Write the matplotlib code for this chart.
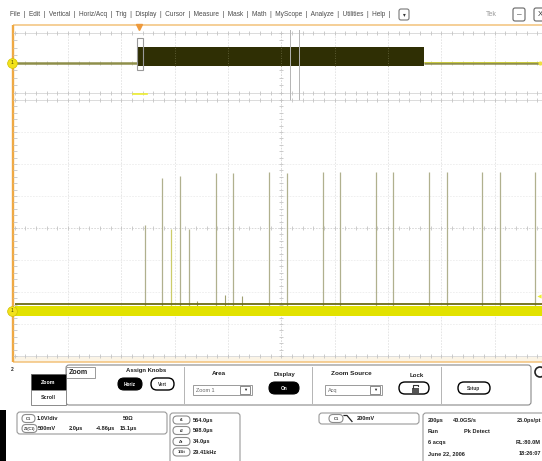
import numpy as np
import matplotlib
matplotlib.use('Agg')
import matplotlib.pyplot as plt
import matplotlib.transforms as mtransforms
from matplotlib.patches import FancyBboxPatch, Rectangle, Circle
from matplotlib.collections import LineCollection

plt.rcParams['font.family'] = ['Liberation Sans', 'DejaVu Sans']

W, H = 542, 461

# ---- values ----
menu_items = ["File", "Edit", "Vertical", "Horiz/Acq", "Trig", "Display", "Cursor",
              "Measure", "Mask", "Math", "MyScope", "Analyze", "Utilities", "Help"]

# main window: 200 us/div, 1.0 V/div
main_t_range = (-467.0, 1533.0)      # us
main_v_range = (-4.0, 4.0)           # V
burst_t = [-8.0, 1068.0]             # us
burst_v = [-0.4, 2.13]               # V
cursor_t = [564.0, 598.0]            # us
trigger_t = 0.0
trigger_level = 0.2                  # V

# zoom window: 2.0 us/div, 0.5 V/div
zoom_t_range = (-6.5, 13.5)          # us
zoom_v_range = (-0.735, 3.265)       # V
zoom_box_v = (-0.93, 3.33)           # V, outline drawn in main window

spike_t = [-1.61, -0.96, -0.63, -0.30, 0.04, 1.04, 1.70, 3.05, 3.70,
           5.05, 5.70, 7.04, 7.70, 9.05, 9.71, 11.04, 11.70, 13.02]
spike_v = [1.31, 2.05, 1.25, 2.08, 1.25, 2.12, 2.12, 2.14, 2.12,
           2.14, 2.14, 2.14, 2.14, 2.14, 2.14, 2.14, 2.14, 2.14]
glitch_t = [0.34, 1.38, 2.03]
glitch_v = [0.12, 0.22, 0.20]

ch1_readout = ["1.0V/div", "50Ω"]
zoom_readout = ["500mV", "2.0µs", "-4.86µs", "15.1µs"]
cursor_labels = ["t1", "t2", "Δt", "1/Δt"]
cursor_values = ["564.0µs", "598.0µs", "34.0µs", "29.41kHz"]
trig_readout = "200mV"
acq_rows = [("200µs", "40.0GS/s", "25.0ps/pt"),
            ("Run", "Pk Detect", ""),
            ("6 acqs", "", "RL:80.0M"),
            ("June 22, 2006", "", "18:26:07")]

fig = plt.figure(figsize=(W / 100, H / 100), dpi=100)
fig.patch.set_facecolor('white')
ui = fig.add_axes([0, 0, 1, 1])
ui.set_xlim(0, W)
ui.set_ylim(H, 0)
ui.axis('off')
ui.set_zorder(0)


def label(x, y, s, size=4.5, bold=False, color='#222222', ha='left'):
    return ui.text(x, y, s, fontsize=size, fontweight='bold' if bold else 'normal',
                   color=color, ha=ha, va='center')


def pill(x0, y0, x1, y1, text='', face='white', edge='#8c8c8c', tcolor='#333333',
         size=3.4, lw=0.8, bold=True):
    h = y1 - y0
    ui.add_patch(FancyBboxPatch((x0, y0), x1 - x0, h,
                                boxstyle=f"round,pad=0,rounding_size={h / 2}",
                                fc=face, ec=edge, lw=lw))
    if text:
        label((x0 + x1) / 2, (y0 + y1) / 2, text, size=size, bold=bold, color=tcolor, ha='center')


def rbox(x0, y0, x1, y1, r=3, edge='#9a9a9a', lw=0.8, face='white'):
    ui.add_patch(FancyBboxPatch((x0, y0), x1 - x0, y1 - y0,
                                boxstyle=f"round,pad=0,rounding_size={r}",
                                fc=face, ec=edge, lw=lw))


def panel_axes(x0, y0, x1, y1):
    ax = fig.add_axes([x0 / W, 1 - y1 / H, (x1 - x0) / W, (y1 - y0) / H])
    ax.axis('off')
    ax.set_zorder(2)
    return ax


def graticule(ax, wpx, hpx, yticks_per_div, hgrid=True, nx=10, ny=8):
    tr = ax.transAxes
    kw = dict(transform=tr, clip_on=False, zorder=1)
    for i in range(1, nx):
        if i != nx // 2:
            ax.plot([i / nx] * 2, [0, 1], color='#e2e2e2', lw=0.6, ls=(0, (2, 1.5)), **kw)
    if hgrid:
        for j in range(1, ny):
            if j != ny // 2:
                ax.plot([0, 1], [j / ny] * 2, color='#ececec', lw=0.6, ls=(0, (2, 1.5)), **kw)
    ax.plot([0.5, 0.5], [0, 1], color='#d2d2d2', lw=0.6, ls=(0, (2, 1.5)), **kw)
    ax.plot([0, 1], [0.5, 0.5], color='#d2d2d2', lw=0.6, ls=(0, (2, 1.5)), **kw)
    for e in (0, 1):
        ax.plot([0, 1], [e, e], color='#d6d6d6', lw=0.6, **kw)
    segs = []
    tx, ty = 2.0 / wpx, 2.0 / hpx
    for k in range(nx * 5 + 1):
        x = k / (nx * 5)
        for y in (0, 0.5, 1):
            segs.append([(x, y - ty), (x, y + ty)])
    nyt = ny * yticks_per_div
    for k in range(nyt + 1):
        y = k / nyt
        for x in (0, 0.5):
            segs.append([(x - tx, y), (x + tx, y)])
    ax.add_collection(LineCollection(segs, colors='#c4c4c4', lw=0.6, **kw))


# ---- menu bar: one line of text, sized to span the bar ----
menu_text = label(10, 14, "  |  ".join(menu_items) + "  |", size=4.5, color='#4a4a4a')
fig.canvas.draw()
menu_w = menu_text.get_window_extent().width
menu_text.set_fontsize(4.5 * (395 - 10) / menu_w)
rbox(399, 9, 409, 20, r=2, edge='#777777')
label(404, 14.5, "▾", size=4, color='#333333', ha='center')
label(486, 14, "Tek", size=5, color='#9a9a9a')
rbox(513, 8, 525, 21, r=2, edge='#666666')
label(519, 14.5, "–", size=6, color='#333333', ha='center')
rbox(534, 8, 548, 21, r=2, edge='#666666')
label(540, 14.5, "X", size=5.5, color='#333333', ha='center')

# ---- orange display frame ----
ui.add_patch(Rectangle((14, 357), 530, 5, fc='#fbf4e6', ec='none'))
ui.plot([13, 548], [25, 25], color='#f3c27a', lw=1.1, solid_capstyle='butt')
ui.plot([13, 548], [362, 362], color='#f3c27a', lw=1.1, solid_capstyle='butt')
ui.plot([13, 13], [25, 362], color='#efa944', lw=1.7, solid_capstyle='butt')

# ---- main (upper) window ----
up = panel_axes(14.5, 33, 548, 93)
up.set_xlim(*main_t_range)
up.set_ylim(*main_v_range)
graticule(up, 533.5, 60, 1, hgrid=False)
up.fill_between(burst_t, burst_v[0], burst_v[1], color='#2f2f04', lw=0, zorder=2)
up.plot([main_t_range[0], burst_t[0]], [0, 0], color='#8f8f4a', lw=1.8, zorder=3,
        solid_capstyle='butt')
up.plot([burst_t[1], main_t_range[1]], [0, 0], color='#8f8f4a', lw=1.8, zorder=3,
        solid_capstyle='butt')
up.plot([burst_t[1], main_t_range[1]], [0.1, 0.1], color='#d6d62a', lw=0.5, zorder=3)
for xg in np.linspace(main_t_range[0], main_t_range[1], 11)[1:-1]:
    if burst_t[0] < xg < burst_t[1]:
        up.plot([xg, xg], burst_v, color='#6a6a40', lw=0.6, ls=(0, (1, 2)), zorder=3)
up.add_patch(Rectangle((zoom_t_range[0], zoom_box_v[0]), zoom_t_range[1] - zoom_t_range[0],
                       zoom_box_v[1] - zoom_box_v[0], fc='none', ec='#9a9a9a', lw=0.8,
                       zorder=4, clip_on=False))
bt_up = mtransforms.blended_transform_factory(up.transData, up.transAxes)
for ct in cursor_t:
    up.plot([ct, ct], [-0.12, 1.05], color='#b4b4b4', lw=0.7, transform=bt_up,
            clip_on=False, zorder=4)
up.plot([trigger_t], [1.1], marker='v', ms=4, color='#ee9a3c', mec='#ee9a3c',
        transform=bt_up, clip_on=False, zorder=5)
up.plot([trigger_t - 23, trigger_t + 30], [-0.02, -0.02], color='#eeee30', lw=1.2,
        transform=bt_up, clip_on=False, zorder=5)
bt_up2 = mtransforms.blended_transform_factory(up.transAxes, up.transData)
up.plot([-0.0047], [0], marker='o', ms=7, color='#f2e21a', mec='#d0c000', mew=0.5,
        transform=bt_up2, clip_on=False, zorder=6)
up.text(-0.0047, 0, "1", fontsize=3.5, ha='center', va='center', color='#444400',
        transform=bt_up2, zorder=7)
up.plot([0.985], [0], marker='o', ms=3, color='#f0e040', mec='none',
        transform=bt_up2, clip_on=False, zorder=6)

# ---- zoom (lower) window ----
lo = panel_axes(14.5, 100, 548, 356)
lo.set_xlim(*zoom_t_range)
lo.set_ylim(*zoom_v_range)
graticule(lo, 533.5, 256, 5)
spike_colors = ['#b0b08e'] * len(spike_t)
spike_colors[2] = '#cccc6a'
lo.vlines(spike_t, 0, spike_v, colors=spike_colors, lw=0.9, zorder=2)
lo.vlines(glitch_t, 0, glitch_v, colors='#a0a070', lw=0.8, zorder=2)
lo.plot(zoom_t_range, [0.075, 0.075], color='#6c6c14', lw=1.3, zorder=2.5)
lo.plot(zoom_t_range, [-0.03, -0.03], color='#e2e200', lw=7.2, zorder=3,
        solid_capstyle='butt')
bt_lo = mtransforms.blended_transform_factory(lo.transAxes, lo.transData)
lo.plot([-0.0047], [-0.03], marker='o', ms=7, color='#f2e21a', mec='#d0c000', mew=0.5,
        transform=bt_lo, clip_on=False, zorder=6)
lo.text(-0.0047, -0.03, "1", fontsize=3.5, ha='center', va='center', color='#444400',
        transform=bt_lo, zorder=7)
lo.plot([0.983], [trigger_level], marker='<', ms=3, color='#eeee30', mec='none',
        transform=bt_lo, clip_on=False, zorder=6)

# ---- control panel ----
label(11, 369, "2", size=3.5, bold=True)
rbox(66, 365, 531, 405, r=3, edge='#8a8a8a')
ui.add_patch(Rectangle((66, 367), 29, 11, fc='white', ec='#9a9a9a', lw=0.7))
label(69, 372, "Zoom", size=5, bold=True)
ui.add_patch(Rectangle((31, 374), 35, 16, fc='black', ec='#666666', lw=0.7))
label(48.5, 382, "Zoom", size=3.8, bold=True, color='white', ha='center')
ui.add_patch(Rectangle((31, 390), 35, 15, fc='white', ec='#8a8a8a', lw=0.7))
label(48.5, 397.5, "Scroll", size=3.8, bold=True, ha='center')
label(146, 370.5, "Assign Knobs", size=4.3, bold=True, ha='center')
pill(118, 378, 142, 390, "Horiz", face='black', edge='black', tcolor='white')
pill(151, 378, 174, 390, "Vert", edge='black', lw=1.0)
for xs in (184, 312, 441):
    ui.plot([xs, xs], [367, 403], color='#b4b4b4', lw=0.7)
label(219, 373.5, "Area", size=4.6, bold=True, ha='center')
ui.add_patch(Rectangle((193, 385), 59, 10, fc='white', ec='#9a9a9a', lw=0.7))
label(196, 390, "Zoom 1", size=4, color='#666666')
ui.add_patch(Rectangle((240, 386), 10, 8, fc='white', ec='#777777', lw=0.6))
label(245, 390, "▼", size=3, ha='center')
label(285, 374.5, "Display", size=4.4, bold=True, ha='center')
pill(269, 382, 299, 394, "On", face='black', edge='black', tcolor='white')
label(351, 373.5, "Zoom Source", size=4.6, bold=True, ha='center')
ui.add_patch(Rectangle((325, 385), 57, 10, fc='white', ec='#9a9a9a', lw=0.7))
label(328, 390, "Acq", size=4, color='#666666')
ui.add_patch(Rectangle((370, 386), 10, 8, fc='white', ec='#777777', lw=0.6))
label(375, 390, "▼", size=3, ha='center')
label(417, 375.5, "Lock", size=4.4, bold=True, ha='center')
pill(399, 382, 429, 394, edge='black', lw=1.0)
ui.add_patch(Rectangle((412, 388), 7, 5, fc='#555555', ec='none'))
ui.plot([413, 413, 418, 418], [388, 384.5, 384.5, 386], color='#333333', lw=0.8)
pill(458, 382, 490, 394, "Setup", edge='black', lw=1.0)
ui.add_patch(Circle((540, 372), 5, fc='white', ec='#222222', lw=1.2))

# ---- readouts ----
ui.add_patch(Rectangle((0, 410), 6, 51, fc='black', ec='none'))
rbox(17, 412, 167, 434, r=3)
pill(22, 414.5, 35, 422.5, "C1", size=3)
label(37, 418.5, ch1_readout[0], size=4.1, bold=True)
label(123, 418.5, ch1_readout[1], size=4.1, bold=True)
pill(22, 424.5, 37, 432.5, "Z1(C1)", size=2.6)
for x, s in zip([38, 69, 96, 120], zoom_readout):
    label(x, 428.5, s, size=4.1, bold=True)

rbox(170, 413, 240, 465, r=3)
for y, lab, val in zip([420, 430.5, 441.5, 452], cursor_labels, cursor_values):
    pill(173, y - 4, 190, y + 4, lab, size=3)
    label(193, y, val, size=4.1, bold=True)

rbox(319, 413, 419, 424, r=3)
pill(329, 414.5, 343, 422.5, "C1", size=3)
ui.plot([344, 347, 352], [415.5, 415.5, 421.5], color='#222222', lw=0.9)
label(357, 418.5, trig_readout, size=4.1, bold=True)

rbox(423, 413, 548, 466, r=3)
for y, (a, b, c) in zip([420, 431.5, 442.5, 453.5], acq_rows):
    label(428, y, a, size=4.1, bold=True)
    if b:
        label(453 if y < 425 else 464, y, b, size=4.1, bold=True)
    if c:
        label(541, y, c, size=4.1, bold=True, ha='right')

fig.savefig('out.png', dpi=100)
